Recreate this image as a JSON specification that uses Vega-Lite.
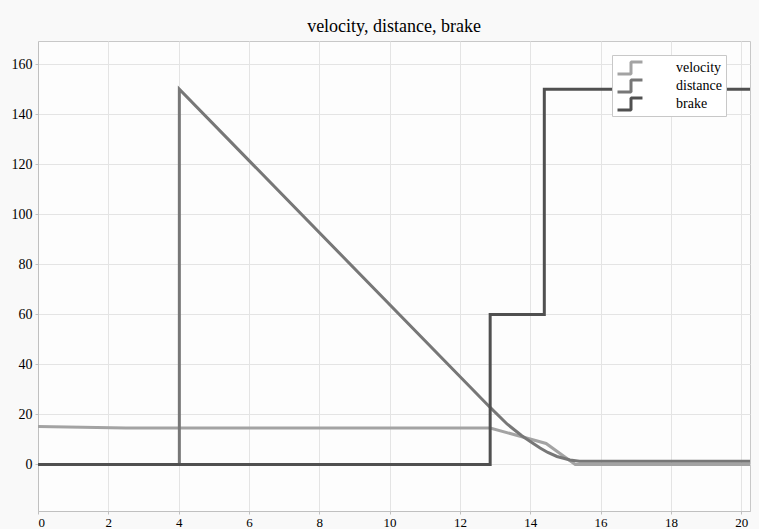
{
  "$schema": "https://vega.github.io/schema/vega-lite/v6.json",
  "width": 712,
  "height": 470,
  "autosize": {"type": "none"},
  "padding": {"left": 38, "top": 41, "right": 9, "bottom": 18},
  "background": "#f9f9f9",
  "title": {"text": "velocity, distance, brake", "font": "'Liberation Serif', 'Times New Roman', serif", "fontSize": 18, "fontWeight": "normal", "color": "#000000", "offset": 5, "anchor": "middle"},
  "data": {"values": [
    {"series": "velocity", "i": 0, "t": 0, "v": 15.2},
    {"series": "velocity", "i": 1, "t": 2.5, "v": 14.6},
    {"series": "velocity", "i": 2, "t": 12.86, "v": 14.6},
    {"series": "velocity", "i": 3, "t": 14.45, "v": 8.4},
    {"series": "velocity", "i": 4, "t": 15.28, "v": 0},
    {"series": "velocity", "i": 5, "t": 20.25, "v": 0},
    {"series": "distance", "i": 0, "t": 0, "v": 0},
    {"series": "distance", "i": 1, "t": 4.02, "v": 0},
    {"series": "distance", "i": 2, "t": 4.02, "v": 150},
    {"series": "distance", "i": 3, "t": 12.86, "v": 22.8},
    {"series": "distance", "i": 4, "t": 13.34, "v": 16.2},
    {"series": "distance", "i": 5, "t": 13.76, "v": 11.5},
    {"series": "distance", "i": 6, "t": 14.0, "v": 9.2},
    {"series": "distance", "i": 7, "t": 14.28, "v": 6.6},
    {"series": "distance", "i": 8, "t": 14.5, "v": 4.8},
    {"series": "distance", "i": 9, "t": 14.76, "v": 3.2},
    {"series": "distance", "i": 10, "t": 15.13, "v": 1.8},
    {"series": "distance", "i": 11, "t": 15.4, "v": 1.3},
    {"series": "distance", "i": 12, "t": 20.25, "v": 1.3},
    {"series": "brake", "i": 0, "t": 0, "v": 0},
    {"series": "brake", "i": 1, "t": 12.86, "v": 0},
    {"series": "brake", "i": 2, "t": 12.86, "v": 60},
    {"series": "brake", "i": 3, "t": 14.4, "v": 60},
    {"series": "brake", "i": 4, "t": 14.4, "v": 150},
    {"series": "brake", "i": 5, "t": 20.25, "v": 150}
  ]},
  "mark": {"type": "line", "strokeWidth": 3, "clip": true},
  "encoding": {
    "x": {"field": "t", "type": "quantitative", "scale": {"domain": [0, 20.25], "nice": false, "zero": false},
      "axis": {"title": null, "values": [0, 2, 4, 6, 8, 10, 12, 14, 16, 18, 20], "labelPadding": 2, "labelFontSize": 13}},
    "y": {"field": "v", "type": "quantitative", "scale": {"domain": [-18.6, 169.3], "nice": false, "zero": false},
      "axis": {"title": null, "values": [0, 20, 40, 60, 80, 100, 120, 140, 160]}},
    "order": {"field": "i", "type": "quantitative"},
    "color": {"field": "series", "type": "nominal",
      "scale": {"domain": ["velocity", "distance", "brake"], "range": ["#a3a3a3", "#777777", "#505050"]},
      "legend": {"title": null, "orient": "none", "legendX": 574, "legendY": 14,
        "symbolType": "M-1,0.8H0.8V-0.8H2.33", "symbolSize": 225, "symbolStrokeWidth": 3,
        "labelOffset": 42, "rowPadding": 1, "padding": 4,
        "strokeColor": "#c8c8c8", "fillColor": "#ffffff",
        "labelFont": "'Liberation Serif', 'Times New Roman', serif", "labelFontSize": 14, "labelColor": "#000000",
        "encode": {"symbols": {"update": {"strokeJoin": {"value": "bevel"}}}}}}
  },
  "config": {
    "view": {"stroke": "#c8c8c8", "fill": "#fdfdfd"},
    "axis": {"grid": true, "gridColor": "#e4e4e4", "gridWidth": 1, "domainColor": "#c0c0c0", "ticks": true, "tickSize": 3, "tickColor": "#c0c0c0",
      "labelFont": "'Liberation Serif', 'Times New Roman', serif", "labelFontSize": 14, "labelColor": "#000000", "labelPadding": 3}
  }
}
